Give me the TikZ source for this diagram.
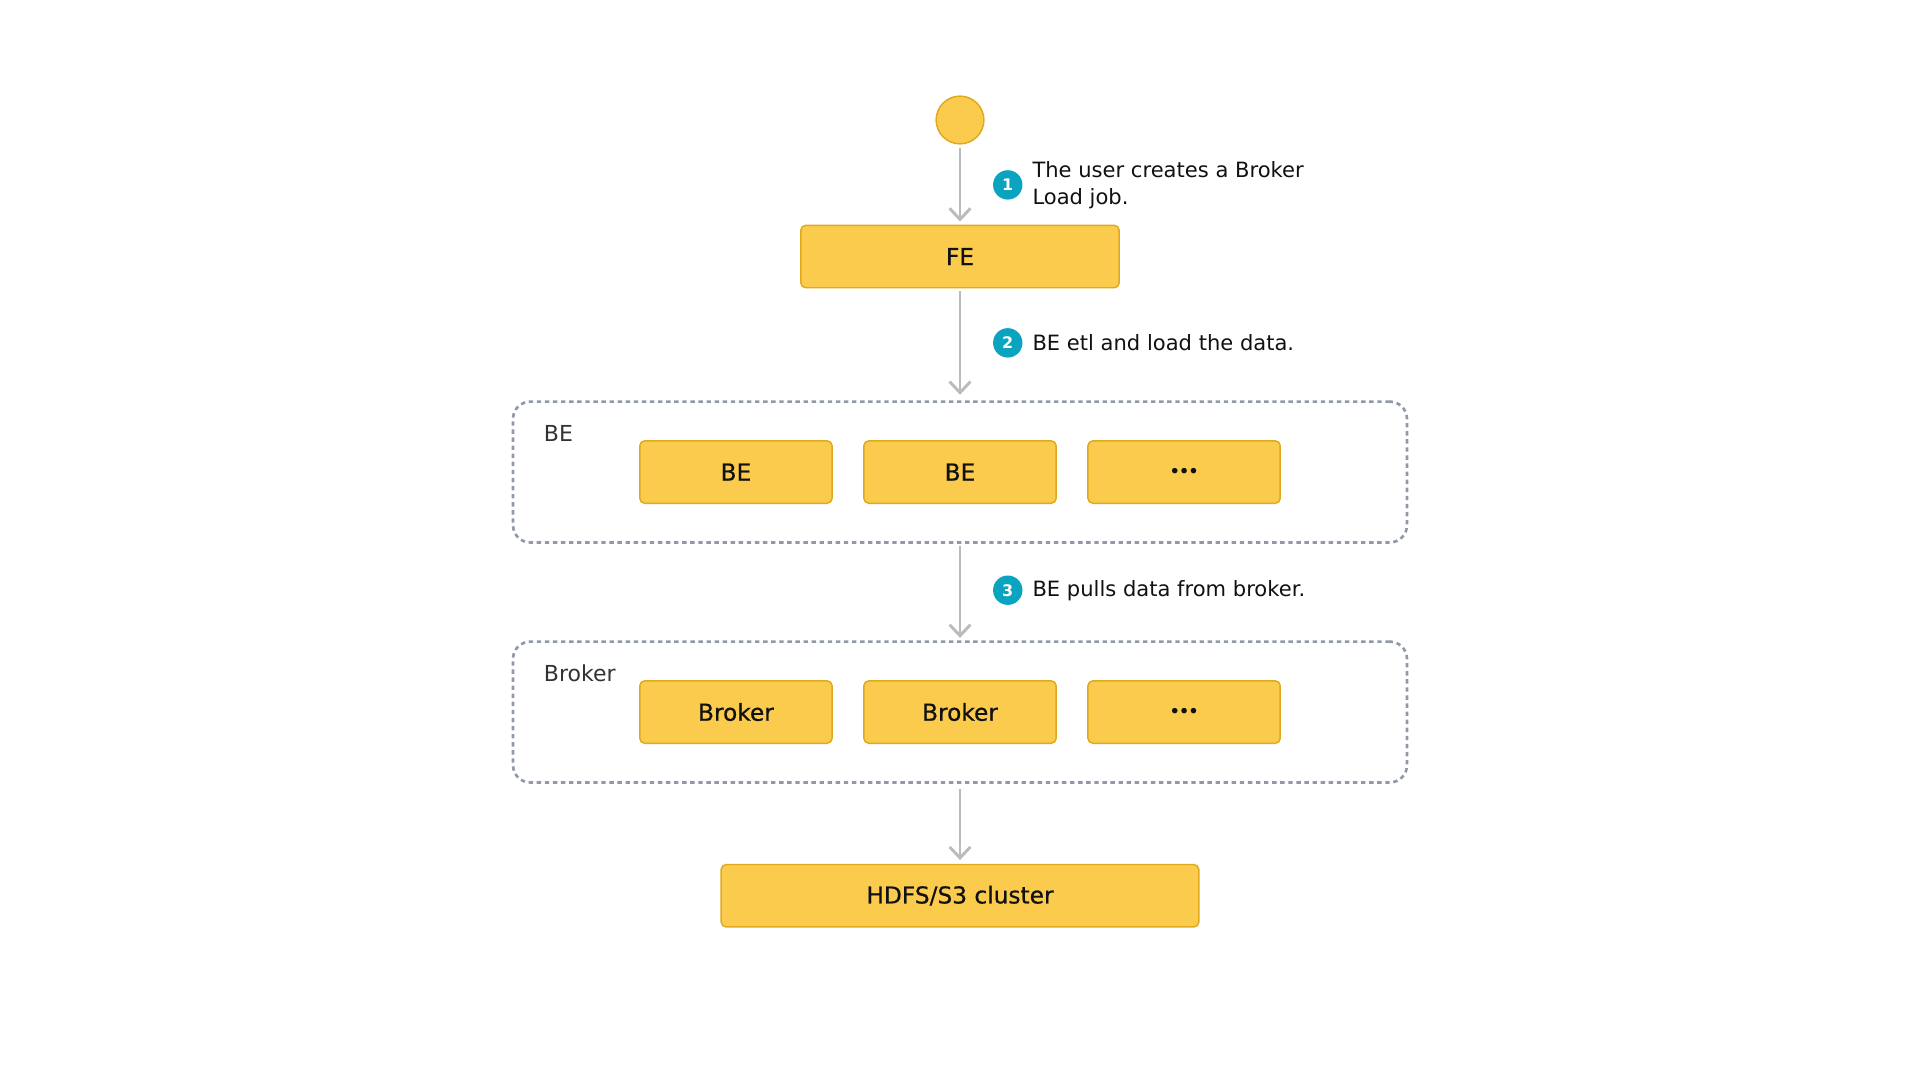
\documentclass[tikz,border=0pt]{standalone}
\usepackage{fontspec}
\setmainfont{DejaVu Sans}
\newfontfamily\boxfont[FakeBold=0.6]{DejaVu Sans}
\usetikzlibrary{arrows.meta,positioning}
\definecolor{boxfill}{HTML}{FBCB4E}
\definecolor{boxline}{HTML}{E0A91F}
\definecolor{arrowgray}{HTML}{BBBBBB}
\definecolor{badge}{HTML}{0AA3C0}
\definecolor{dashgray}{HTML}{9199A8}
\definecolor{txt}{HTML}{111111}
\tikzset{
  ybox/.style={draw=boxline, fill=boxfill, line width=1.2pt, rounded corners=4pt,
    minimum height=51pt, inner sep=0pt, font=\boxfont\fontsize{19}{22}\selectfont, text=txt},
  grp/.style={draw=dashgray, line width=2.2pt, dash pattern=on 3.6pt off 3pt, rounded corners=14pt},
  flow/.style={draw=arrowgray, line width=2.4pt, -{Straight Barb[length=9pt,width=17pt,line width=2.4pt]}},
  badgec/.style={circle, fill=badge, minimum size=24pt, inner sep=0pt, text=white,
    font=\fontsize{13}{13}\selectfont\bfseries},
  lbl/.style={anchor=west, align=left, inner sep=0pt, text=txt, font=\fontsize{17.2}{22}\selectfont},
  grplbl/.style={anchor=west, inner sep=0pt, text=black!80, font=\fontsize{18}{22}\selectfont},
}
\begin{document}
\begin{tikzpicture}[x=1pt,y=-1pt]
\useasboundingbox (0,0) rectangle (1568,882);
% start
\node[circle, draw=boxline, fill=boxfill, line width=1.2pt, minimum size=39pt, inner sep=0pt] (start) at (784,98) {};
% FE
\node[ybox, minimum width=260pt] (fe) at (784,209.5) {FE};
% BE group
\node[grp, minimum width=730pt, minimum height=115pt, inner sep=0pt] (begrp) at (784,385.5) {};
\node[grplbl] (belbl) at (444,354) {BE};
\node[ybox, minimum width=157pt] (be1) at (601,385.5) {BE};
\node[ybox, minimum width=157pt] (be2) at (784,385.5) {BE};
\node[ybox, minimum width=157pt] (be3) at (967,385.5) {\raisebox{-1pt}{\fontsize{12}{12}\selectfont\textbf{•••}}};
% Broker group
\node[grp, minimum width=730pt, minimum height=115pt, inner sep=0pt] (brgrp) at (784,581.5) {};
\node[grplbl] (brlbl) at (444,550) {Broker};
\node[ybox, minimum width=157pt] (br1) at (601,581.5) {Broker};
\node[ybox, minimum width=157pt] (br2) at (784,581.5) {Broker};
\node[ybox, minimum width=157pt] (br3) at (967,581.5) {\raisebox{-1pt}{\fontsize{12}{12}\selectfont\textbf{•••}}};
% HDFS
\node[ybox, minimum width=390pt] (hdfs) at (784,731.5) {HDFS/S3 cluster};
% connectors
\draw[flow] ([yshift=-3pt]start.south) -- ([yshift=2.5pt]fe.north);
\draw[flow] ([yshift=-2pt]fe.south) -- ([yshift=4.5pt]begrp.north);
\draw[flow] ([yshift=-2pt]begrp.south) -- ([yshift=2pt]brgrp.north);
\draw[flow] ([yshift=-4pt]brgrp.south) -- ([yshift=3pt]hdfs.north);
% step labels
\node[badgec] (b1) at (823,151) {1};
\node[lbl] (t1) at (843,151) {The user creates a Broker\\Load job.};
\node[badgec] (b2) at (823,280) {2};
\node[lbl] (t2) at (843,280) {BE etl and load the data.};
\node[badgec] (b3) at (823,482) {3};
\node[lbl] (t3) at (843,482) {BE pulls data from broker.};
\end{tikzpicture}
\end{document}
